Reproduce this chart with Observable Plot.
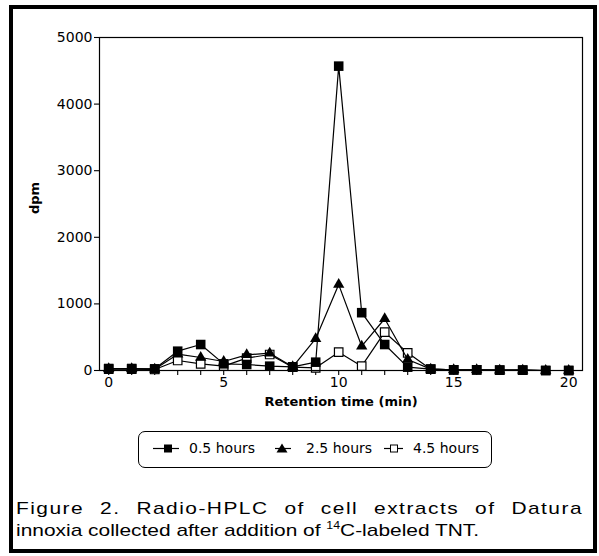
<!DOCTYPE html>
<html>
<head>
<meta charset="utf-8">
<script src="https://cdn.jsdelivr.net/npm/d3@7"></script>
<script src="https://cdn.jsdelivr.net/npm/@observablehq/plot@0.6"></script>
<style>
  html, body { margin: 0; padding: 0; background: #fff; }
  #wrap { position: relative; width: 599px; height: 556px; overflow: hidden; background: #fff; }
  #outer { position: absolute; left: 9px; top: 5px; width: 588px; height: 548px; box-sizing: border-box; border: 4px solid #000; }
  #chart { position: absolute; left: 0; top: 0; }
  #legend { position: absolute; left: 138px; top: 431px; width: 354px; height: 37px; box-sizing: border-box;
            border: 1.2px solid #000; border-radius: 7px; }
  #legend svg { position: absolute; left: 0; top: 0; }
  .cap { position: absolute; left: 16px; font-family: "Liberation Sans", Arial, sans-serif; font-size: 17px; color: #000;
         white-space: nowrap; transform: scaleX(1.23); transform-origin: 0 0; }
  #cap1 { top: 499px; width: 461px; text-align: justify; text-align-last: justify; letter-spacing: 1.2px; white-space: normal; }
  #cap2 { top: 521px; }
  sup { font-size: 10px; vertical-align: 7px; line-height: 0; }
</style>
</head>
<body>
<div id="wrap">
  <div id="outer"></div>
  <div id="chart"></div>
  <div id="legend"></div>
  <div class="cap" id="cap1">Figure 2. Radio-HPLC of cell extracts of Datura</div>
  <div class="cap" id="cap2">innoxia collected after addition of <sup>14</sup>C-labeled TNT.</div>
</div>
<script>
// ---- data ----
const times = [0, 1, 2, 3, 4, 5, 6, 7, 8, 9, 10, 11, 12, 13, 14, 15, 16, 17, 18, 19, 20];
const h05 = [30, 30, 25, 290, 390, 100, 90, 65, 55, 125, 4570, 868, 390, 50, 20, 10, 10, 5, 5, 0, 0];
const h25 = [25, 25, 20, 245, 195, 135, 235, 260, 55, 478, 1290, 365, 777, 165, 20, 10, 10, 5, 5, 0, 0];
const h45 = [20, 20, 15, 150, 100, 65, 185, 240, 50, 40, 275, 65, 575, 265, 20, 10, 10, 5, 5, 0, 0];
const seriesNames = ["0.5 hours", "2.5 hours", "4.5 hours"];
const xTicks = [0, 1, 2, 3, 4, 5, 6, 7, 8, 9, 10, 11, 12, 13, 14, 15, 16, 17, 18, 19, 20];
const xTickLabels = [0, 5, 10, 15, 20];
const yTicks = [0, 1000, 2000, 3000, 4000, 5000];
const xLabel = "Retention time (min)";
const yLabel = "dpm";

const mk = (vals, name) => times.map((t, i) => ({t, v: vals[i], s: name}));
const d05 = mk(h05, seriesNames[0]);
const d25 = mk(h25, seriesNames[1]);
const d45 = mk(h45, seriesNames[2]);

const lineOpts = {x: "t", y: "v", stroke: "black", strokeWidth: 1.2};

const chart = Plot.plot({
  width: 599,
  height: 420,
  marginLeft: 99,
  marginRight: 17,
  marginTop: 37,
  marginBottom: 50,
  x: {domain: [-0.4, 20.6]},
  y: {domain: [0, 5000]},
  style: {fontFamily: "'DejaVu Sans', sans-serif", fontSize: "14px", color: "black", background: "transparent", overflow: "visible"},
  marks: [
    Plot.axisX({ticks: xTicks, tickSize: 5, tickPadding: 2, strokeWidth: 1.1,
      tickFormat: d => xTickLabels.includes(d) ? String(d) : "", label: null}),
    Plot.axisY({ticks: yTicks, tickSize: 5, tickPadding: 2, strokeWidth: 1.1,
      tickFormat: d => String(d), label: null}),
    Plot.line(d45, lineOpts),
    Plot.dot(d45, {x: "t", y: "v", symbol: "square", r: 4.8, fill: "white", stroke: "black", strokeWidth: 1.2}),
    Plot.line(d25, lineOpts),
    Plot.dot(d25, {x: "t", y: "v", symbol: "triangle", r: 4.2, fill: "black", stroke: "none"}),
    Plot.line(d05, lineOpts),
    Plot.dot(d05, {x: "t", y: "v", symbol: "square", r: 5.4, fill: "black", stroke: "none"}),
    Plot.frame({stroke: "black", strokeWidth: 1.2}),
    Plot.text([xLabel], {text: d => d, frameAnchor: "bottom", lineAnchor: "middle", dy: 31, fontWeight: "bold", fontSize: 13}),
    Plot.text([yLabel], {text: d => d, frameAnchor: "left", textAnchor: "middle", lineAnchor: "middle", dx: -65, dy: -6, rotate: -90, fontWeight: "bold", fontSize: 13})
  ]
});
document.getElementById("chart").appendChild(chart);

// ---- legend ----
const legendItems = [
  {name: seriesNames[0], x1: 14, x2: 40, cx: 29, type: "sq"},
  {name: seriesNames[1], x1: 136, x2: 152, cx: 143, type: "tri"},
  {name: seriesNames[2], x1: 245, x2: 264, cx: 255, type: "open"}
];
const textX = [50, 167, 274];
const lsvg = d3.create("svg").attr("width", 354).attr("height", 37)
  .style("font-family", "'DejaVu Sans', sans-serif").style("font-size", "14px");
const cy = 16.5;
legendItems.forEach((it, i) => {
  lsvg.append("line").attr("x1", it.x1).attr("x2", it.x2).attr("y1", cy).attr("y2", cy)
    .attr("stroke", "black").attr("stroke-width", 1.2);
  if (it.type === "sq") {
    lsvg.append("rect").attr("x", it.cx - 4).attr("y", cy - 4).attr("width", 8).attr("height", 8).attr("fill", "black");
  } else if (it.type === "tri") {
    lsvg.append("path").attr("d", `M${it.cx},${cy - 5}L${it.cx + 5.5},${cy + 4}L${it.cx - 5.5},${cy + 4}Z`).attr("fill", "black");
  } else {
    lsvg.append("rect").attr("x", it.cx - 3.5).attr("y", cy - 3.5).attr("width", 7).attr("height", 7)
      .attr("fill", "white").attr("stroke", "black").attr("stroke-width", 1);
  }
  lsvg.append("text").attr("x", textX[i]).attr("y", cy).attr("dy", "0.35em").text(it.name);
});
document.getElementById("legend").appendChild(lsvg.node());
</script>
</body>
</html>
